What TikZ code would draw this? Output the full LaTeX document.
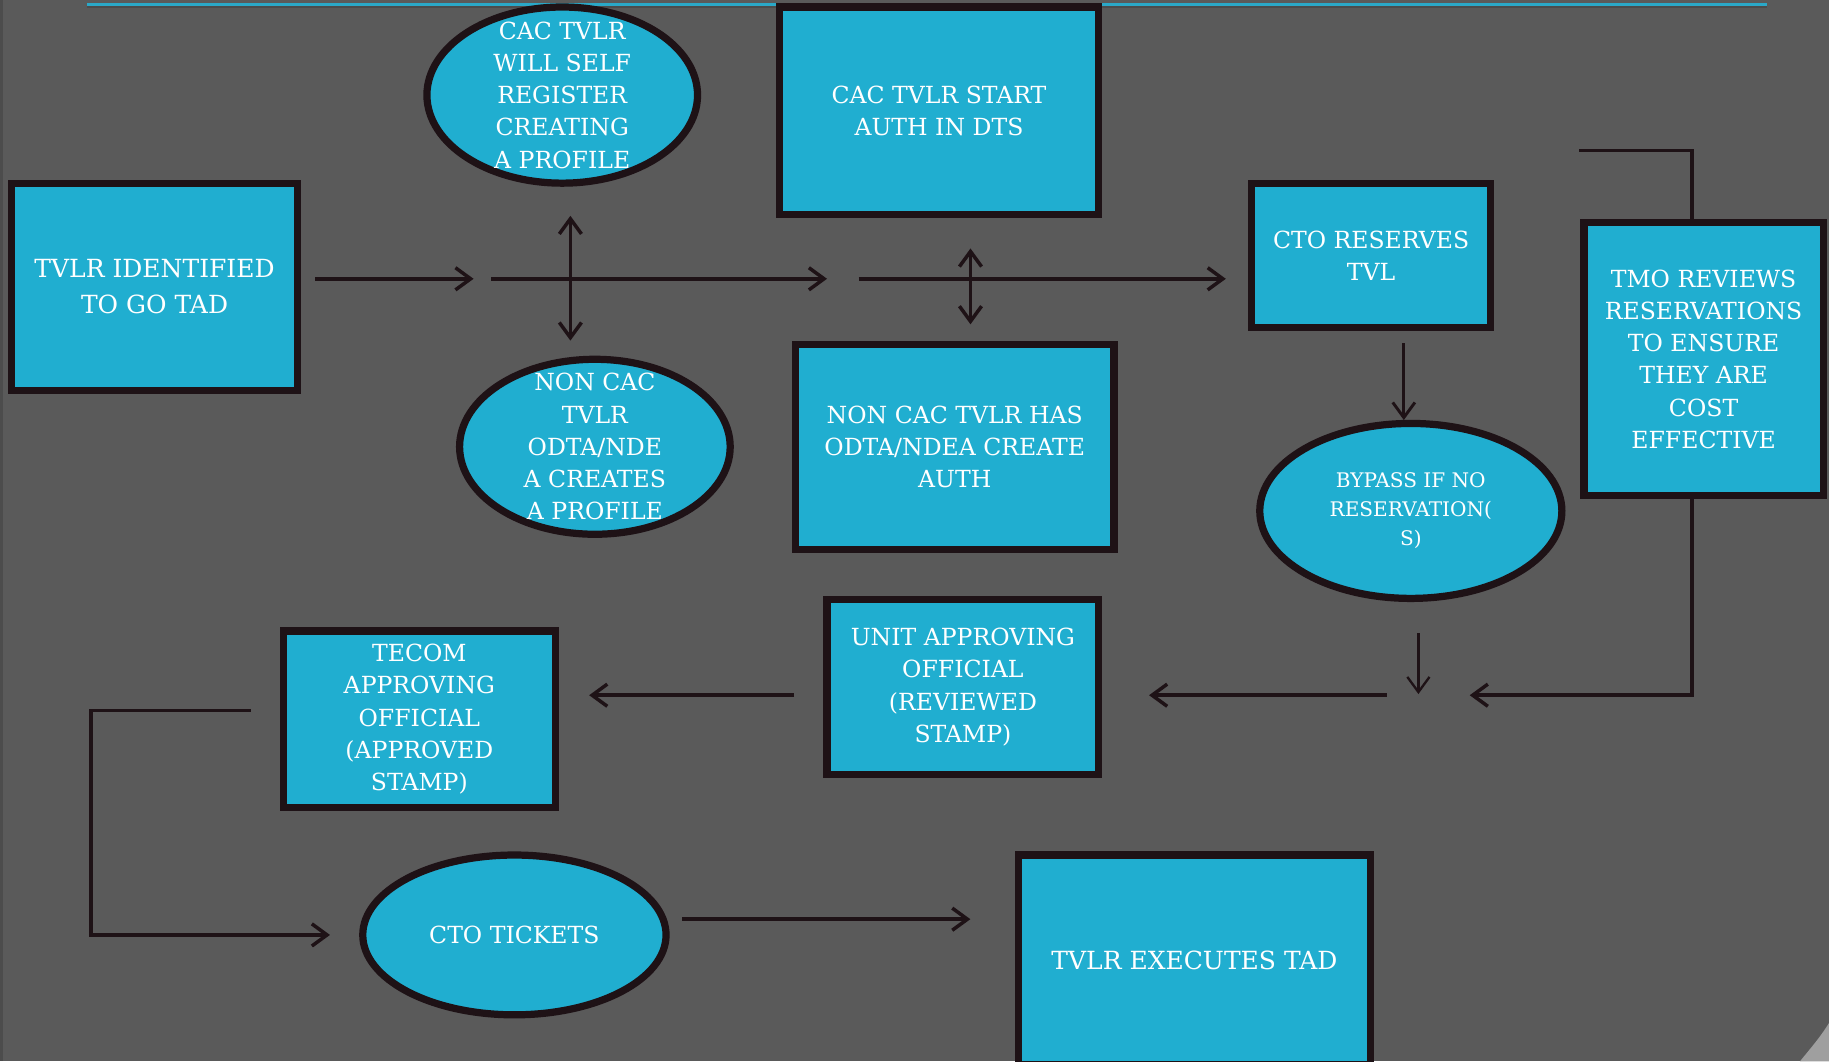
\documentclass[tikz,border=0pt]{standalone}
\usepackage{fontspec}
\setmainfont{DejaVu Serif}
\usetikzlibrary{positioning,arrows.meta,calc,shapes.geometric}
\definecolor{slate}{HTML}{5A5A5A}
\definecolor{tadblue}{HTML}{20AED0}
\definecolor{ink}{HTML}{1E1216}
\definecolor{rule}{HTML}{2AA8C8}
\tikzset{
  tadbox/.style={draw=ink, line width=0.62mm, fill=tadblue, text=white, align=center, inner sep=0pt},
  tadoval/.style={tadbox, ellipse},
  ovaltext/.style={text=white, align=center, inner sep=0pt},
  barb/.tip={Straight Barb[length=1.3mm,width=1.9mm]},
  flow/.style={draw=ink, line width=0.3mm, -barb},
  twoway/.style={draw=ink, line width=0.3mm, barb-barb},
  wire/.style={draw=ink, line width=0.3mm},
  big/.style={font=\fontsize{6.1}{8.8}\selectfont},
  mid/.style={font=\fontsize{5.75}{7.85}\selectfont},
  small/.style={font=\fontsize{4.9}{7.1}\selectfont},
}
\begin{document}
\begin{tikzpicture}[x=0.1mm, y=-0.1mm]
  \useasboundingbox (0,0) rectangle (1568,910);
  \clip (0,0) rectangle (1568,910);
  % ---------------- slide background ----------------
  \fill[slate] (0,0) rectangle (1568,910);
  \fill[black, opacity=0.15] (0,0) rectangle (3,910);
  \fill[gray!75] (1568,877) .. controls (1560,890) and (1551,900) .. (1543,910) -- (1568,910) -- cycle;
  \draw[black!70, line width=0.25mm] (75,6) -- (1515,6);
  \draw[rule, line width=0.25mm] (75,3.5) -- (1515,3.5);

  % ---------------- steps ----------------
  \node[tadbox, big, minimum width=24.5mm, minimum height=17.8mm] (idn) at (132.5,246) {TVLR IDENTIFIED\\TO GO TAD};
  \node[tadoval, minimum width=23.2mm, minimum height=15.1mm] (cac) at (482,81.5) {};
  \node[ovaltext, mid] (cactext) at (cac) {CAC TVLR\\WILL SELF\\REGISTER\\CREATING\\A PROFILE};
  \node[tadbox, mid, minimum width=27.4mm, minimum height=17.8mm] (start) at (805,95) {CAC TVLR START\\AUTH IN DTS};
  \node[tadoval, minimum width=23.2mm, minimum height=15.0mm] (noncac) at (510,383) {};
  \node[ovaltext, mid] (noncactext) at (noncac) {NON CAC\\TVLR\\ODTA/NDE\\A CREATES\\A PROFILE};
  \node[tadbox, mid, minimum width=27.3mm, minimum height=17.6mm] (nonauth) at (818.5,383) {NON CAC TVLR HAS\\ODTA/NDEA CREATE\\AUTH};
  \node[tadbox, mid, minimum width=20.5mm, minimum height=12.4mm] (cto) at (1175.5,219) {CTO RESERVES\\TVL};
  \node[tadbox, mid, minimum width=20.5mm, minimum height=23.4mm] (tmo) at (1460.5,308) {TMO REVIEWS\\RESERVATIONS\\TO ENSURE\\THEY ARE\\COST\\EFFECTIVE};
  \node[tadoval, minimum width=25.9mm, minimum height=15.0mm] (bypass) at (1209.5,438) {};
  \node[ovaltext, small] (bypasstext) at (bypass) {BYPASS IF NO\\RESERVATION(\\S)};
  \node[tadbox, mid, minimum width=23.3mm, minimum height=15.0mm] (unit) at (825.5,589) {UNIT APPROVING\\OFFICIAL\\(REVIEWED\\STAMP)};
  \node[tadbox, mid, minimum width=23.3mm, minimum height=15.1mm] (tecom) at (359.5,616.5) {TECOM\\APPROVING\\OFFICIAL\\(APPROVED\\STAMP)};
  \node[tadoval, minimum width=26.0mm, minimum height=13.7mm] (tickets) at (441,801.5) {};
  \node[ovaltext, mid] (ticketstext) at (tickets) {CTO TICKETS};
  \node[tadbox, big, minimum width=30.2mm, minimum height=18.0mm] (exec) at (1024,823) {TVLR EXECUTES TAD};

  % ---------------- connectors ----------------
  \coordinate (fork1) at (489,239);
  \coordinate (fork2) at (832,239);
  \coordinate (merge) at (1216,596);
  \coordinate (tmoin) at (1354,129);
  \draw[flow] ($(idn.east|-fork1)+(12,0)$) -- ($(fork1)+(-83,0)$);
  \draw[flow] ($(fork1)+(-68,0)$) -- ($(fork1)+(220,0)$);
  \draw[twoway] ($(fork1)+(0,-54)$) -- ($(fork1)+(0,53)$);
  \draw[flow] ($(fork2)+(-96,0)$) -- ($(cto.west|-fork2)+(-19,0)$);
  \draw[twoway] ($(fork2)+(0,-26)$) -- ($(fork2)+(0,39)$);
  \draw[flow, line width=0.25mm] ($(cto.south)+(28,10)$) -- ($(cto.south-|bypass.north)+(-6,76)$);
  \draw[wire] (tmoin) -| ($(tmo.north)+(-10,0)$);
  \draw[flow] ($(tmo.south)+(-10,0)$) |- ($(merge)+(44,0)$);
  \draw[flow, line width=0.2mm] ($(merge)+(0,-53)$) -- ($(merge)+(0,-1)$);
  \draw[flow] ($(merge)+(-27,0)$) -- ($(unit.east|-merge)+(40,0)$);
  \draw[flow] ($(unit.west|-merge)+(-25,0)$) -- ($(tecom.east|-merge)+(26,0)$);
  \draw[flow] ($(tecom.west)+(-25,-7.5)$) -- ($(tecom.west)+(-162,-7.5)$) |- ($(tickets.west)+(-25,0)$);
  \draw[flow] ($(tickets.east)+(11,-13.5)$) -- ($(exec.west|-tickets.east)+(-38,-13.5)$);
\end{tikzpicture}
\end{document}
